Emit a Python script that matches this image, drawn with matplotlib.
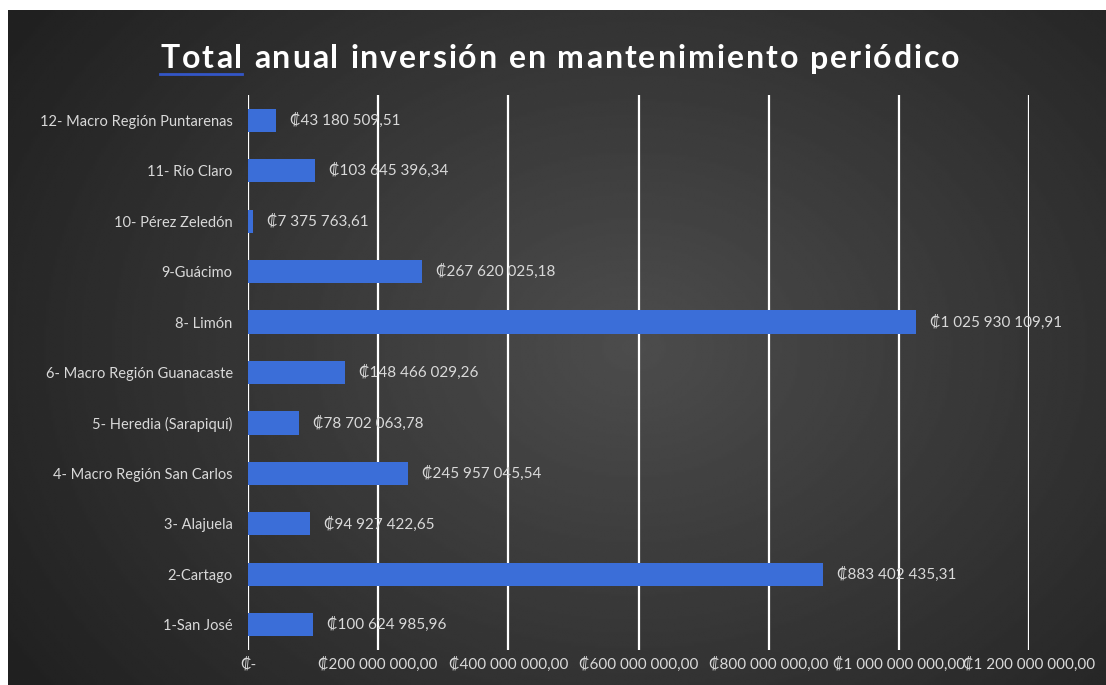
import numpy as np
import matplotlib
matplotlib.use("Agg")
import matplotlib.pyplot as plt
from matplotlib import font_manager, ft2font
from matplotlib.font_manager import FontProperties
from matplotlib.lines import Line2D

categories = ["1-San José", "2-Cartago", "3- Alajuela", "4- Macro Región San Carlos",
              "5- Heredia (Sarapiquí)", "6- Macro Región Guanacaste", "8- Limón",
              "9-Guácimo", "10- Pérez Zeledón", "11- Río Claro",
              "12- Macro Región Puntarenas"]
values = [100624985.96, 883402435.31, 94927422.65, 245957045.54, 78702063.78,
          148466029.26, 1025930109.91, 267620025.18, 7375763.61, 103645396.34,
          43180509.51]
xticks = [0, 200e6, 400e6, 600e6, 800e6, 1000e6, 1200e6]
title = "Total anual inversión en mantenimiento periódico"

FAM = ["Lato", "DejaVu Sans"]
plt.rcParams['font.family'] = FAM


def fmt_money(v):
    if v == 0:
        return "₡-"
    s = f"{v:,.2f}"
    ip, dp = s.split(".")
    return "₡" + ip.replace(",", " ") + "," + dp


W, H = 1106, 685
DPI = 100
fig = plt.figure(figsize=(W / DPI, H / DPI), dpi=DPI)
fig.patch.set_facecolor("white")

# background gradient panel
bg = fig.add_axes([8 / W, 0, 1 - 8 / W, 1 - 10 / H])
yy, xx = np.mgrid[0:1:300j, 0:1:500j]
r = np.sqrt(((xx - 0.57) / 0.75) ** 2 + ((yy - 0.5) / 0.95) ** 2)
val = np.clip(0.30 - 0.19 * r, 0.13, 0.32)
bg.imshow(val, cmap="gray", vmin=0, vmax=1, aspect="auto",
          extent=[0, 1, 0, 1], interpolation="bilinear")
bg.set_axis_off()

ax = fig.add_axes([248 / W, 1 - 650 / H, (1029 - 248) / W, (650 - 95) / H])
ax.patch.set_alpha(0)
y = np.arange(len(categories))
ax.set_axisbelow(True)
ax.xaxis.grid(True, color="white", linewidth=1.6)
ax.barh(y, values, height=0.46, color="#3b6ed8", edgecolor="none", zorder=3)
ax.set_xlim(0, 1.2e9)
ax.set_ylim(-0.5, len(categories) - 0.5)
ax.set_yticks(y)
ax.set_yticklabels(categories)
ax.set_xticks(xticks)
ax.set_xticklabels([fmt_money(v) for v in xticks])
ax.tick_params(axis="both", length=0, colors="#d9d9d9", labelsize=11)
ax.tick_params(axis="y", pad=11, labelsize=10.5)
ax.tick_params(axis="x", pad=5)
for s in ax.spines.values():
    s.set_visible(False)

for yi, v in zip(y, values):
    ax.annotate(fmt_money(v), (v, yi), xytext=(14, 0), textcoords="offset pixels",
                va="center", ha="left", color="#d9d9d9", fontsize=11)

# title with letter spacing
tsize = 23
tprop = FontProperties(family="Lato", weight="bold", size=tsize)
font = ft2font.FT2Font(font_manager.findfont(tprop))
font.set_size(tsize, DPI)
advs = [font.load_char(ord(c)).linearHoriAdvance / 65536 for c in title]
spacing = 2.0
total = sum(advs) + spacing * (len(title) - 1)
x0 = 560 - total / 2
xc = x0
ty = 1 - 59 / H
for c, a in zip(title, advs):
    if c != " ":
        fig.text(xc / W, ty, c, ha="left", va="center",
                 color="white", fontproperties=tprop)
    xc += a + spacing
# spell-check style underline under "Total"
tw = sum(advs[:5]) + spacing * 4
fig.add_artist(Line2D([x0 / W, (x0 + tw) / W], [1 - 74 / H, 1 - 74 / H],
                      color="#3356c8", linewidth=2.0))

fig.savefig("out.png", dpi=DPI, facecolor=fig.get_facecolor())
